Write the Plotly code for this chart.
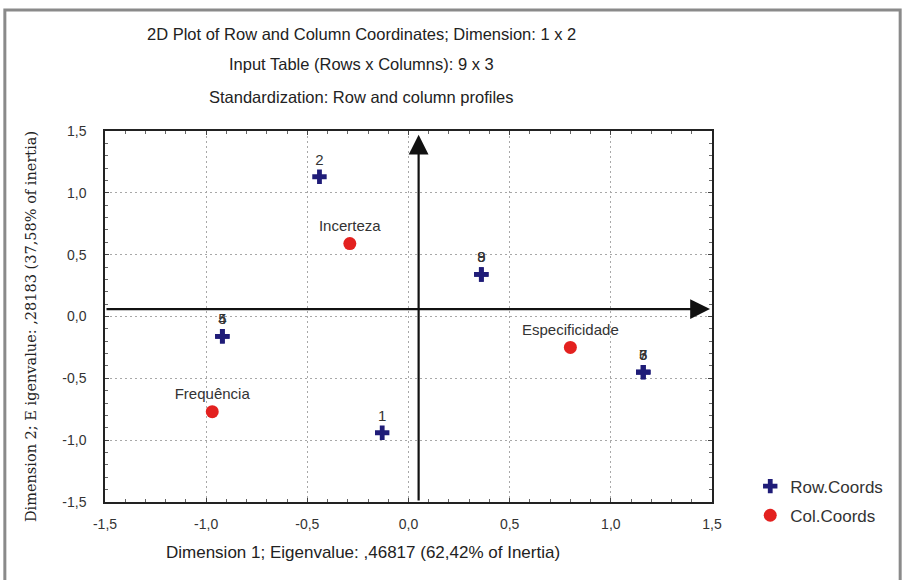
import plotly.graph_objects as go

# ---- data ----
row_labels = ["1", "2", "3", "4", "5", "6", "7", "8", "9"]
row_x = [-0.13, -0.44, 1.16, -0.92, -0.92, 1.16, 1.16, 0.36, 0.36]
row_y = [-0.94, 1.13, -0.45, -0.16, -0.16, -0.45, -0.45, 0.34, 0.34]

col_labels = ["Incerteza", "Especificidade", "Frequência"]
col_x = [-0.29, 0.80, -0.97]
col_y = [0.59, -0.25, -0.77]

tick_vals = [-1.5, -1.0, -0.5, 0.0, 0.5, 1.0, 1.5]
tick_text = ["-1,5", "-1,0", "-0,5", "0,0", "0,5", "1,0", "1,5"]

title_lines = [
    "2D Plot of Row and Column Coordinates; Dimension: 1 x 2",
    "Input Table (Rows x Columns): 9 x 3",
    "Standardization: Row and column profiles",
]
x_title = "Dimension 1; Eigenvalue: ,46817 (62,42% of Inertia)"
y_title = "Dimension 2; E igenvalue: ,28183 (37,58% of inertia)"

# arrow axes (origin of the drawn axes)
arrow_x0 = 0.05
arrow_y0 = 0.06

FONT = "Liberation Sans, Arial, sans-serif"
TXT = "#333333"

fig = go.Figure()
fig.add_trace(go.Scatter(
    x=row_x, y=row_y, text=row_labels, mode="markers+text",
    textposition="top center", name="Row.Coords",
    marker=dict(symbol="cross", size=12, color="#1f1c78"),
    textfont=dict(family=FONT, size=15, color=TXT),
    legendgroup="r", cliponaxis=False,
))
fig.add_trace(go.Scatter(
    x=col_x, y=col_y, text=col_labels, mode="markers+text",
    textposition="top center", name="Col.Coords",
    marker=dict(symbol="circle", size=13, color="#e3211f"),
    textfont=dict(family=FONT, size=15, color=TXT),
    legendgroup="c", cliponaxis=False,
))

axis_common = dict(
    range=[-1.5, 1.5], tickvals=tick_vals, ticktext=tick_text,
    showgrid=True, gridcolor="#a8a8a8", griddash="2px,3px", gridwidth=1,
    zeroline=False, showline=True, linecolor="#222222", linewidth=1.5,
    mirror="ticks", ticks="inside", ticklen=4, tickcolor="#444444",
    minor=dict(dtick=0.1, ticks="inside", ticklen=3, tickcolor="#666666", showgrid=False),
    tickfont=dict(family=FONT, size=14, color=TXT),
    fixedrange=True,
)
fig.update_xaxes(**axis_common, ticklabelstandoff=8)
fig.update_yaxes(**axis_common, ticklabelstandoff=14)

annotations = []
title_y = [1.261, 1.181, 1.092]
for t, yy in zip(title_lines, title_y):
    annotations.append(dict(text=t, x=0.423, y=yy, xref="paper", yref="paper",
                            showarrow=False, font=dict(family=FONT, size=16.5, color="#222"),
                            xanchor="center", yanchor="middle"))
annotations.append(dict(text=x_title, x=0.425, y=-0.137, xref="paper", yref="paper",
                        showarrow=False, font=dict(family=FONT, size=17, color="#222"),
                        xanchor="center", yanchor="middle"))
annotations.append(dict(text=y_title, x=-0.122, y=0.474, xref="paper", yref="paper",
                        showarrow=False, textangle=-90,
                        font=dict(family="DejaVu Serif, serif", size=14.5, color="#222"),
                        xanchor="center", yanchor="middle"))
# arrows
annotations.append(dict(x=1.49, y=arrow_y0, ax=-1.5, ay=arrow_y0, xref="x", yref="y",
                        axref="x", ayref="y", showarrow=True, arrowhead=2, arrowsize=1.8,
                        arrowwidth=2.2, arrowcolor="#111111", text=""))
annotations.append(dict(x=arrow_x0, y=1.47, ax=arrow_x0, ay=-1.5, xref="x", yref="y",
                        axref="x", ayref="y", showarrow=True, arrowhead=2, arrowsize=1.8,
                        arrowwidth=2.2, arrowcolor="#111111", text=""))

fig.update_layout(
    width=903, height=580,
    margin=dict(l=105, r=191, t=131, b=78),
    paper_bgcolor="white", plot_bgcolor="white",
    annotations=annotations,
    showlegend=True,
    legend=dict(x=1.063, y=0.09, xanchor="left", yanchor="top",
                font=dict(family=FONT, size=17, color=TXT),
                traceorder="grouped", tracegroupgap=4, bgcolor="rgba(0,0,0,0)"),
    shapes=[dict(type="rect", xref="paper", yref="paper",
                 x0=-0.165, x1=1.31, y0=-0.24, y1=1.326,
                 line=dict(color="#8a8a8a", width=3), layer="below")],
)

fig.write_html("out.html", config={"displayModeBar": False},
               post_script="document.body.style.margin='0';document.body.style.overflow='hidden';")
